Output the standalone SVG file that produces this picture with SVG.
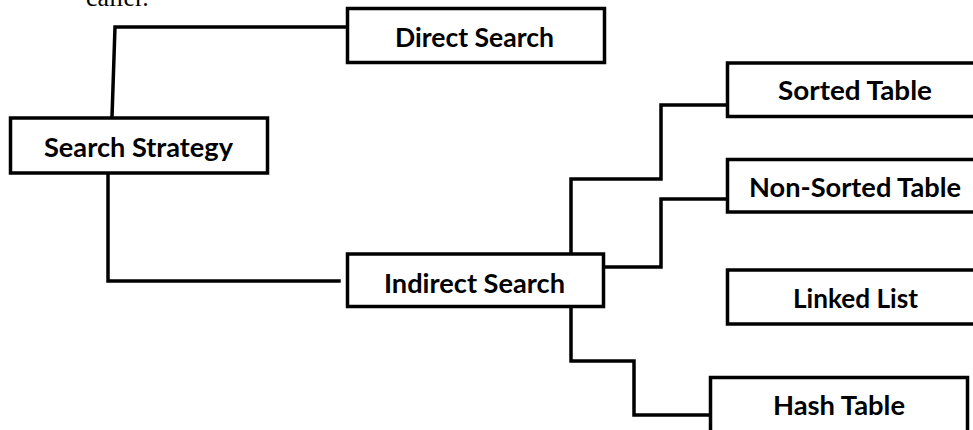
<svg xmlns="http://www.w3.org/2000/svg" width="973" height="430" viewBox="0 0 973 430">
<style>
.box{fill:#fff;stroke:#000;stroke-width:3.5}
.lbl{font-family:Lato,"Open Sans","Liberation Sans",sans-serif;font-weight:bold;font-size:26px;fill:#000;text-anchor:middle}
.edge{fill:none;stroke:#000;stroke-width:3.5;stroke-linejoin:miter;stroke-linecap:square}
.cap{font-family:"Liberation Serif",serif;font-size:26px;fill:#000}
</style>
<rect width="973" height="430" fill="#fff"/>
<text class="cap" x="86" y="6">caller.</text>
<g id="connectors">
<path class="edge" d="M112,117 L115,27 L346,27"/>
<path class="edge" d="M108,173 L108,281 L339,281"/>
<path class="edge" d="M571,254 L571,179 L661,179 L661,105 L727,105"/>
<path class="edge" d="M604,267 L661,267 L661,199 L727,199"/>
<path class="edge" d="M571,307 L571,361 L634,361 L634,415 L710,415"/>
</g>
<g id="search-strategy"><rect class="box" x="10.5" y="118" width="257" height="55"/><text class="lbl" x="138.5" y="157" textLength="189" lengthAdjust="spacingAndGlyphs">Search Strategy</text></g>
<g id="direct-search"><rect class="box" x="347.5" y="8.5" width="257" height="54"/><text class="lbl" x="474.5" y="47" textLength="159" lengthAdjust="spacingAndGlyphs">Direct Search</text></g>
<g id="indirect-search"><rect class="box" x="347.5" y="254" width="256" height="52.5"/><text class="lbl" x="474.5" y="293" textLength="181" lengthAdjust="spacingAndGlyphs">Indirect Search</text></g>
<g id="sorted-table"><rect class="box" x="727.5" y="63" width="260" height="53.5"/><text class="lbl" x="855" y="100" textLength="154" lengthAdjust="spacingAndGlyphs">Sorted Table</text></g>
<g id="non-sorted-table"><rect class="box" x="727.5" y="159.5" width="260" height="52.5"/><text class="lbl" x="855" y="197" textLength="212" lengthAdjust="spacingAndGlyphs">Non-Sorted Table</text></g>
<g id="linked-list"><rect class="box" x="727.5" y="270" width="260" height="54"/><text class="lbl" x="855.5" y="308" textLength="125" lengthAdjust="spacingAndGlyphs">Linked List</text></g>
<g id="hash-table"><rect class="box" x="710.5" y="377.5" width="257" height="60"/><text class="lbl" x="839" y="415" textLength="132" lengthAdjust="spacingAndGlyphs">Hash Table</text></g>
</svg>
